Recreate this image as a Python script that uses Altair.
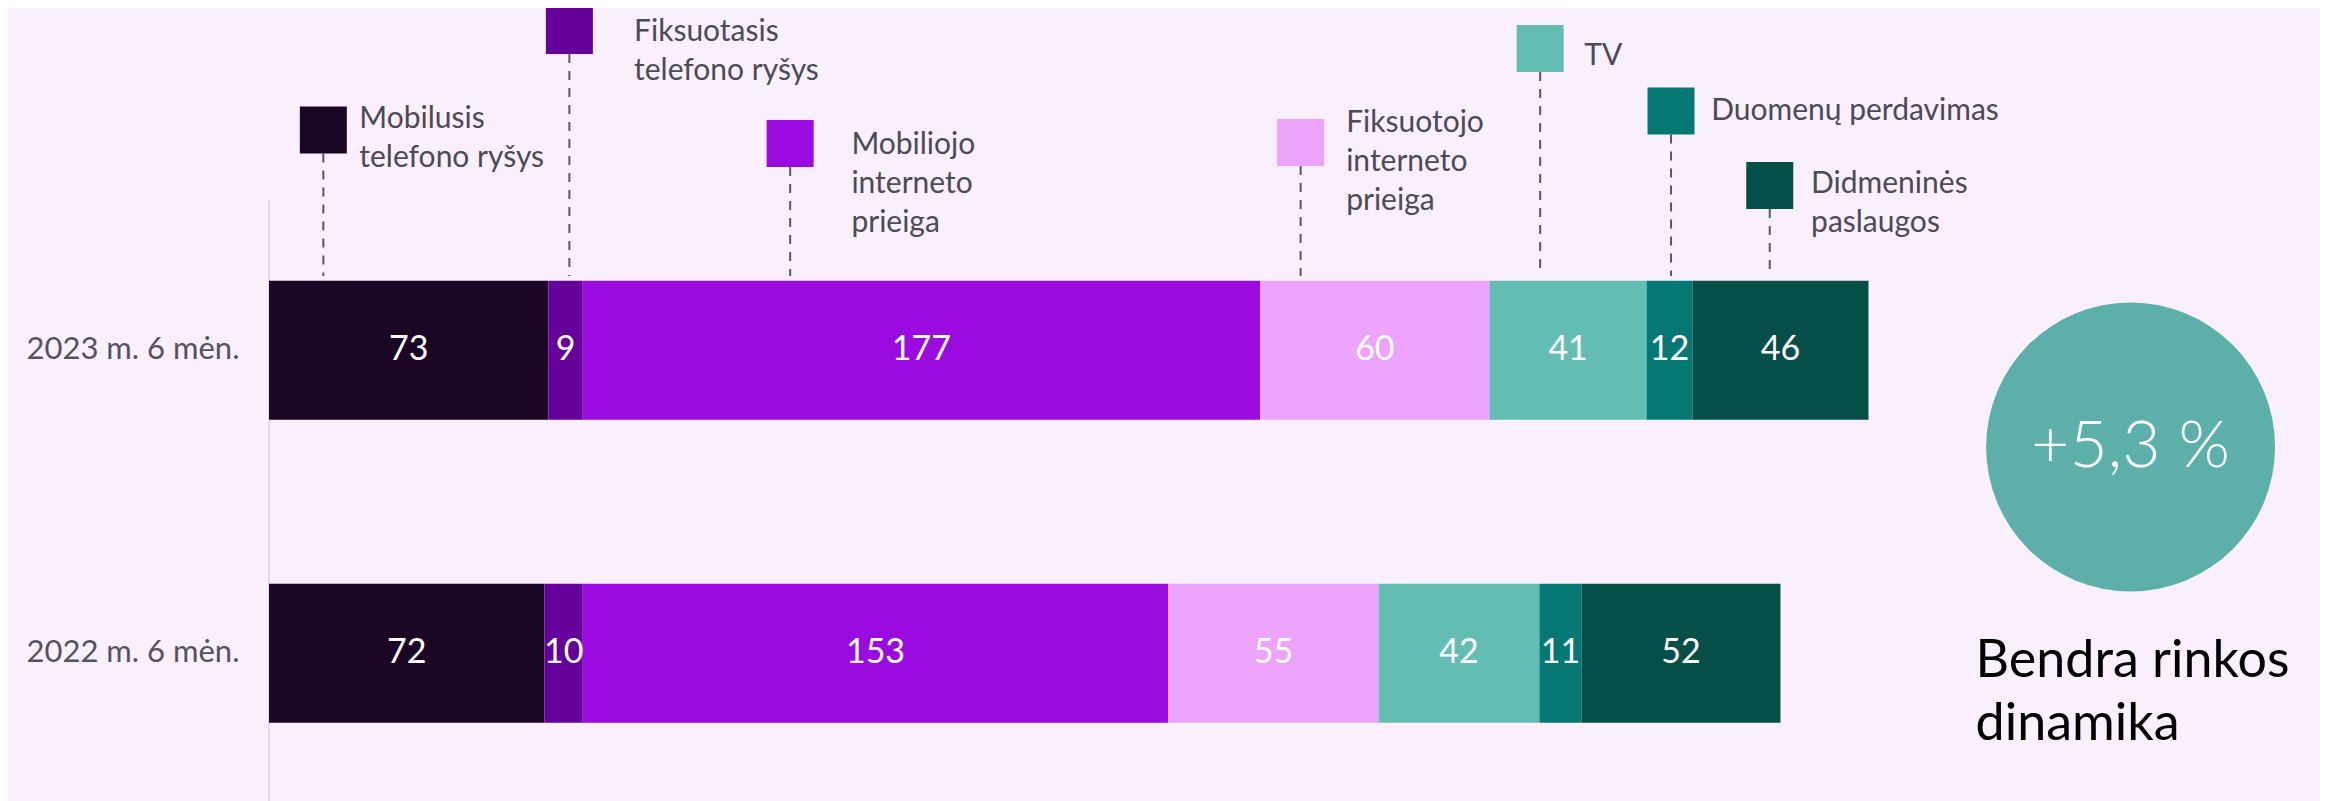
import altair as alt
import pandas as pd

# ---------------- data ----------------
periods = ["2023 m. 6 mėn.", "2022 m. 6 mėn."]
services = [
    "Mobilusis telefono ryšys",
    "Fiksuotasis telefono ryšys",
    "Mobiliojo interneto prieiga",
    "Fiksuotojo interneto prieiga",
    "TV",
    "Duomenų perdavimas",
    "Didmeninės paslaugos",
]
values_2023 = [73, 9, 177, 60, 41, 12, 46]
values_2022 = [72, 10, 153, 55, 42, 11, 52]
legend_text = [
    "Mobilusis\ntelefono ryšys",
    "Fiksuotasis\ntelefono ryšys",
    "Mobiliojo\ninterneto\nprieiga",
    "Fiksuotojo\ninterneto\nprieiga",
    "TV",
    "Duomenų perdavimas",
    "Didmeninės\npaslaugos",
]
growth_label = "+5,3 %"
summary_label = "Bendra rinkos\ndinamika"

# ---------------- style / layout ----------------
colors = ["#1B0625", "#66009A", "#9A0BE0", "#EBA3FB", "#64BDB3", "#057874", "#064E48"]
bg = "#FAEFFD"
text_gray = "#4C4A56"
W, H = 2051, 793
X_MAX = 536
# callout anchors (x in value units, y in px from top of plot)
callout_x = [14.2, 78.5, 136.2, 269.6, 332.2, 366.4, 392.2]
callout_text_x = [23.6, 95.4, 152.2, 281.5, 343.7, 376.9, 403.0]
callout_square_y = [122, 22.5, 135.5, 134.5, 40.5, 103, 177.5]
callout_text_y = [120, 33, 146, 124, 56.5, 112, 185]
SQ = 47
bar_top = 268
summary_x = 486.5
summary_y = 439
summary_text_x = 446.0
summary_text_y = 669

# ---------------- frames ----------------
rows = []
for p, vals in zip(periods, [values_2023, values_2022]):
    start = 0
    for i, (s, v) in enumerate(zip(services, vals)):
        rows.append(dict(period=p, service=s, order=i, value=v,
                         start=start, end=start + v, mid=start + v / 2))
        start += v
bars_df = pd.DataFrame(rows)

call_df = pd.DataFrame(dict(
    service=services,
    label=legend_text,
    ax=callout_x,
    tx=callout_text_x,
    sy=callout_square_y,
    ty=callout_text_y,
))
call_df["ltop"] = call_df["sy"] + SQ / 2
call_df["lbot"] = bar_top

summary_df = pd.DataFrame(dict(x=[summary_x], y=[summary_y], g=[growth_label],
                               tx=[summary_text_x], ty=[summary_text_y], s=[summary_label]))
axis_df = pd.DataFrame(dict(x=[0], y=[192], y2=[H]))

xs = alt.Scale(domain=[0, X_MAX], nice=False, zero=False)
ys_band = alt.Scale(type="band", domain=periods, paddingInner=0.541, paddingOuter=0.579, align=0.777)
ys_px = alt.Scale(domain=[0, H], reverse=True, nice=False, zero=False)
cs = alt.Scale(domain=services, range=colors)

bars = alt.Chart(bars_df).mark_bar(opacity=1).encode(
    x=alt.X("start:Q", scale=xs, axis=None),
    x2="end:Q",
    y=alt.Y("period:N", scale=ys_band, title=None,
            axis=alt.Axis(domain=False, ticks=False, labelPadding=30, labelFontSize=31,
                          labelFont="Lato", labelColor="#55535E", labelLimit=400)),
    color=alt.Color("service:N", scale=cs, legend=None),
)

bar_text = alt.Chart(bars_df).mark_text(color="white", fontSize=34, font="Lato",
                                        baseline="middle", align="center").encode(
    x=alt.X("mid:Q", scale=xs, axis=None),
    y=alt.Y("period:N", scale=ys_band, axis=None, bandPosition=0.5),
    text="value:Q",
)

axis_line = alt.Chart(axis_df).mark_rule(color="#DAD3DF", strokeWidth=1.5).encode(
    x=alt.X("x:Q", scale=xs, axis=None),
    y=alt.Y("y:Q", scale=ys_px, axis=None),
    y2="y2:Q",
)

leaders = alt.Chart(call_df).mark_rule(color="#5A5862", strokeWidth=2, strokeDash=[9, 8]).encode(
    x=alt.X("ax:Q", scale=xs, axis=None),
    y=alt.Y("ltop:Q", scale=ys_px, axis=None),
    y2="lbot:Q",
)

squares = alt.Chart(call_df).mark_square(size=SQ * SQ, opacity=1, filled=True).encode(
    x=alt.X("ax:Q", scale=xs, axis=None),
    y=alt.Y("sy:Q", scale=ys_px, axis=None),
    color=alt.Color("service:N", scale=cs, legend=None),
)

labels = alt.Chart(call_df).mark_text(font="Lato", fontSize=30, color=text_gray, align="left",
                                      baseline="alphabetic", lineBreak="\n", lineHeight=39).encode(
    x=alt.X("tx:Q", scale=xs, axis=None),
    y=alt.Y("ty:Q", scale=ys_px, axis=None),
    text="label:N",
)

circle = alt.Chart(summary_df).mark_circle(size=3.14159 * 163 * 163, color="#5CB0A9", opacity=1).encode(
    x=alt.X("x:Q", scale=xs, axis=None),
    y=alt.Y("y:Q", scale=ys_px, axis=None),
)

growth = alt.Chart(summary_df).mark_text(font="Lato", fontSize=66, fontWeight=300, color="white",
                                         align="center", baseline="middle").encode(
    x=alt.X("x:Q", scale=xs, axis=None),
    y=alt.Y("y:Q", scale=ys_px, axis=None),
    text="g:N",
)

summary = alt.Chart(summary_df).mark_text(font="Lato", fontSize=52, color="black", align="left",
                                          baseline="alphabetic", lineBreak="\n", lineHeight=63).encode(
    x=alt.X("tx:Q", scale=xs, axis=None),
    y=alt.Y("ty:Q", scale=ys_px, axis=None),
    text="s:N",
)

chart = alt.layer(
    axis_line, bars, bar_text, leaders, squares, labels, circle, growth, summary
).resolve_scale(y="independent").properties(
    width=W, height=H,
    padding={"left": 261, "top": 0, "right": 0, "bottom": 0},
    autosize=alt.AutoSizeParams(type="none"),
).configure(background=bg).configure_view(stroke=None)

chart.save("out.html", embed_options={"renderer": "svg", "actions": False})
